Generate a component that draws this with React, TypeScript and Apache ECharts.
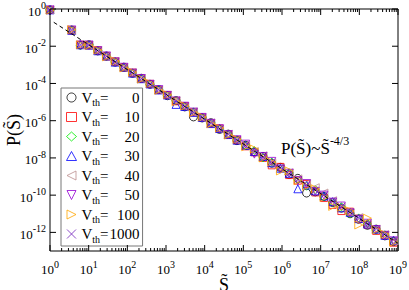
import { useEffect, useRef } from 'react';
import * as echarts from 'echarts';

const FONT = "'Liberation Serif', 'Times New Roman', serif";

// rescaled avalanche size bins (S~)
const sBins = [1, 3.63, 6.1, 10.2, 17.2, 28.8, 48.4, 81.3, 136, 229, 385, 646, 1084, 1820, 3055, 5130, 8610, 14450, 24270, 40740, 68390, 114800, 192800, 323600, 543300, 912000, 1.531e6, 2.57e6, 4.315e6, 7.244e6, 1.216e7, 2.042e7, 3.428e7, 5.754e7, 9.661e7, 1.622e8, 2.723e8, 4.571e8, 7.674e8];

const p0 = [0.9, 7.4e-2, 1.15e-2, 1.2e-2, 5.6e-3, 3.0e-3, 1.4e-3, 7.5e-4, 3.5e-4, 1.9e-4, 9.0e-5, 4.7e-5, 2.2e-5, 1.2e-5, 5.5e-6, 1.6e-6, 1.4e-6, 7.8e-7, 3.4e-7, 1.9e-7, 8.5e-8, 4.8e-8, 2.1e-8, 1.2e-8, 5.2e-9, 3.1e-9, 1.3e-9, 8.0e-10, 1.3e-10, 1.5e-10, 8.5e-11, 4.0e-11, 2.0e-11, 1.0e-11, 5.0e-12, 2.4e-12, 1.5e-12, 6.5e-13, 3.2e-13];
const p10 = [0.88, 7.0e-2, 1.2e-2, 1.1e-2, 6.0e-3, 2.8e-3, 1.5e-3, 7.0e-4, 3.8e-4, 1.8e-4, 9.5e-5, 4.4e-5, 2.4e-5, 1.1e-5, 6.0e-6, 2.8e-6, 1.5e-6, 7.0e-7, 3.8e-7, 1.7e-7, 9.0e-8, 4.2e-8, 2.0e-8, 1.0e-8, 4.0e-9, 3.3e-9, 1.2e-9, 6.0e-10, 4.0e-10, 1.4e-10, 7.0e-11, 3.0e-11, 1.4e-11, 1.3e-11, 5.5e-12, 2.6e-12, 1.2e-12, 7.0e-13, 2.8e-13];
const p20 = [0.92, 7.6e-2, 1.1e-2, 1.2e-2, 5.9e-3, 2.9e-3, 1.5e-3, 7.2e-4, 3.7e-4, 1.9e-4, 9.0e-5, 4.8e-5, 2.3e-5, 1.2e-5, 5.7e-6, 3.0e-6, 1.5e-6, 7.4e-7, 3.6e-7, 1.9e-7, 9.5e-8, 4.5e-8, 2.5e-8, 1.0e-8, 6.0e-9, 2.6e-9, 1.6e-9, 6.5e-10, 3.0e-10, 2.0e-10, 8.0e-11, 4.0e-11, 2.4e-11, 1.0e-11, 6.0e-12, 3.0e-12, 1.3e-12, 7.5e-13, 3.6e-13];
const p30 = [0.9, 7.2e-2, 1.2e-2, 1.15e-2, 5.7e-3, 3.0e-3, 1.4e-3, 7.6e-4, 3.6e-4, 1.8e-4, 9.4e-5, 4.5e-5, 2.4e-5, 7.5e-6, 5.8e-6, 2.8e-6, 1.5e-6, 7.0e-7, 3.8e-7, 1.8e-7, 9.0e-8, 4.7e-8, 2.2e-8, 1.2e-8, 5.5e-9, 2.8e-9, 1.5e-9, 2.2e-10, 3.5e-10, 1.7e-10, 9.0e-11, 4.5e-11, 2.1e-11, 1.2e-11, 5.5e-12, 2.8e-12, 1.5e-12, 7.0e-13, 3.8e-13];
const p40 = [0.9, 7.3e-2, 1.18e-2, 1.13e-2, 5.8e-3, 2.9e-3, 1.5e-3, 7.2e-4, 3.8e-4, 1.8e-4, 9.3e-5, 4.5e-5, 2.3e-5, 1.2e-5, 5.6e-6, 3.0e-6, 1.4e-6, 7.6e-7, 3.5e-7, 1.9e-7, 9.0e-8, 4.8e-8, 2.2e-8, 1.3e-8, 5.5e-9, 2.8e-9, 1.6e-9, 7.5e-10, 4.0e-10, 2.5e-10, 1.3e-10, 5.0e-11, 2.2e-11, 1.2e-11, 6.2e-12, 2.7e-12, 1.5e-12, 7.5e-13, 3.5e-13];
const p50 = [0.9, 7.5e-2, 1.15e-2, 1.17e-2, 5.8e-3, 3.0e-3, 1.45e-3, 7.4e-4, 3.6e-4, 1.85e-4, 9.0e-5, 4.7e-5, 2.3e-5, 1.15e-5, 6.0e-6, 2.9e-6, 1.5e-6, 7.2e-7, 3.7e-7, 1.8e-7, 9.5e-8, 5.5e-8, 1.6e-8, 1.2e-8, 6.5e-9, 2.5e-9, 1.5e-9, 6.0e-10, 4.2e-10, 1.6e-10, 1.0e-10, 4.2e-11, 2.6e-11, 1.1e-11, 5.0e-12, 3.1e-12, 1.4e-12, 7.0e-13, 3.5e-13];
const p100 = [0.86, 7.8e-2, 1.2e-2, 1.1e-2, 6.2e-3, 2.7e-3, 1.6e-3, 6.8e-4, 4.0e-4, 1.7e-4, 1.0e-4, 4.3e-5, 2.5e-5, 1.05e-5, 6.3e-6, 2.7e-6, 1.6e-6, 6.8e-7, 4.0e-7, 1.7e-7, 1.0e-7, 4.0e-8, 3.0e-8, 1.0e-8, 6.0e-9, 2.0e-9, 2.0e-9, 6.0e-10, 3.0e-10, 2.2e-10, 7.5e-11, 2.5e-11, 2.2e-11, 1.4e-11, 2.5e-12, 5.8e-12, 1.4e-12, 8.0e-13, 3.0e-13];
const p1000 = [0.9, 7.4e-2, 1.17e-2, 1.16e-2, 5.8e-3, 2.9e-3, 1.46e-3, 7.3e-4, 3.7e-4, 1.8e-4, 9.2e-5, 4.6e-5, 2.3e-5, 1.2e-5, 5.8e-6, 2.9e-6, 1.5e-6, 7.5e-7, 3.6e-7, 1.9e-7, 8.8e-8, 4.6e-8, 2.1e-8, 1.1e-8, 5.0e-9, 3.0e-9, 1.4e-9, 7.0e-10, 3.5e-10, 1.9e-10, 1.0e-10, 5.0e-11, 2.4e-11, 1.3e-11, 6.0e-12, 2.6e-12, 1.6e-12, 8.0e-13, 4.0e-13];

const vthLabels = ['0', '10', '20', '30', '40', '50', '100', '1000'];
const seriesValues = [p0, p10, p20, p30, p40, p50, p100, p1000];
const seriesColors = ['#000000', '#ff0000', '#00ee00', '#0000ff', '#bc8f8f', '#9400d3', '#ffa500', '#7221bc'];
const seriesSymbols = [
  'circle',
  'rect',
  'diamond',
  'triangle',
  'path://M0,5L10,0L10,10Z',
  'path://M0,0L10,0L5,10Z',
  'path://M0,0L10,5L0,10Z',
  'path://M0,0L10,10M0,10L10,0',
];
const seriesSizes = [8, 7, 8, 8, 8, 8, 8, 6];

// fit  P(S) = A * S^(-4/3)
const fitPrefactor = 0.26;
const fitExponent = -4 / 3;
const fitRange = [1.25, 1e9];

const X_MIN = 1;
const X_MAX = 1e9;
const Y_MIN = 1e-13;
const Y_MAX = 1;
const xMajorExps = [0, 1, 2, 3, 4, 5, 6, 7, 8, 9];
const yMajorExps = [0, -2, -4, -6, -8, -10, -12];
const minorMantissas = [2, 3, 4, 5, 6, 7, 8, 9];

const supRich = {
  b: { fontFamily: FONT, fontSize: 13, color: '#000' },
  s: { fontFamily: FONT, fontSize: 10, color: '#000', padding: [0, 0, 11, 0] },
};

function expOf(v: number) {
  return Math.round(Math.log10(v));
}

function customSeries(name: string, data: number[][], draw: (api: any) => any[]) {
  return {
    name,
    type: 'custom',
    silent: true,
    clip: false,
    z: 5,
    data,
    encode: { x: 0, y: 1 },
    renderItem: (_p: any, api: any) => ({ type: 'group', children: draw(api) }),
  };
}

export default function App() {
  const ref = useRef<HTMLDivElement>(null);
  useEffect(() => {
    if (!ref.current) return;
    const chart = echarts.init(ref.current, undefined, { renderer: 'svg' });
    const lineStyle = { stroke: '#000', lineWidth: 1 };

    const xMinor: number[][] = [];
    for (let d = 0; d < 9; d++) for (const m of minorMantissas) xMinor.push([m * Math.pow(10, d), Y_MIN]);
    const xMajor = xMajorExps.map((e) => [Math.pow(10, e), Y_MIN]);
    const yMajor = yMajorExps.map((e) => [X_MIN, Math.pow(10, e)]);

    const vTick = (len: number) => (api: any) => {
      const x = api.value(0);
      const b = api.coord([x, Y_MIN]);
      const t = api.coord([x, Y_MAX]);
      return [
        { type: 'line', shape: { x1: b[0], y1: b[1], x2: b[0], y2: b[1] - len }, style: lineStyle },
        { type: 'line', shape: { x1: t[0], y1: t[1], x2: t[0], y2: t[1] + len }, style: lineStyle },
      ];
    };
    const yTickAndLabel = (len: number) => (api: any) => {
      const y = api.value(1);
      const l = api.coord([X_MIN, y]);
      const r = api.coord([X_MAX, y]);
      return [
        { type: 'line', shape: { x1: l[0], y1: l[1], x2: l[0] + len, y2: l[1] }, style: lineStyle },
        { type: 'line', shape: { x1: r[0], y1: r[1], x2: r[0] - len, y2: r[1] }, style: lineStyle },
        {
          type: 'text',
          x: l[0] - 4,
          y: l[1] + 2,
          style: {
            text: `{b|10}{s|${expOf(y)}}`,
            rich: supRich,
            align: 'right',
            verticalAlign: 'middle',
          },
        },
      ];
    };

    const scatterSeries = vthLabels.map((name, i) => ({
      name,
      type: 'scatter',
      clip: false,
      z: 3,
      symbol: seriesSymbols[i],
      symbolSize: seriesSizes[i],
      itemStyle: { color: 'transparent', borderColor: seriesColors[i], borderWidth: 1 },
      data: sBins.map((s, k) => [s, seriesValues[i][k]]),
    }));

    const option: any = {
      animation: false,
      backgroundColor: '#fff',
      textStyle: { fontFamily: FONT },
      grid: {
        left: 50,
        top: 9,
        right: 11,
        bottom: 39,
        outerBoundsMode: 'none',
        containLabel: false,
        show: true,
        borderColor: '#000',
        borderWidth: 1,
        backgroundColor: 'transparent',
      },
      xAxis: {
        type: 'log',
        logBase: 10,
        min: X_MIN,
        max: X_MAX,
        splitNumber: 9,
        axisLine: { show: false },
        axisTick: { show: false },
        splitLine: { show: false },
        axisLabel: { margin: 8, formatter: (v: number) => `{b|10}{s|${expOf(v)}}`, rich: supRich },
        name: 'S\u0303',
        nameLocation: 'middle',
        nameGap: 29,
        nameMoveOverlap: false,
        nameTextStyle: { fontFamily: FONT, fontSize: 18, lineHeight: 10, color: '#000' },
      },
      yAxis: {
        type: 'log',
        logBase: 10,
        min: Y_MIN,
        max: Y_MAX,
        splitNumber: 13,
        axisLine: { show: false },
        axisTick: { show: false },
        splitLine: { show: false },
        axisLabel: { show: false },
        name: 'P(S\u0303)',
        nameLocation: 'middle',
        nameGap: 27,
        nameMoveOverlap: false,
        nameTextStyle: { fontFamily: FONT, fontSize: 18, color: '#000' },
      },
      legend: {
        data: vthLabels,
        orient: 'vertical',
        left: 61,
        top: 88,
        padding: [2, 3, 2, 5],
        itemGap: 2,
        itemWidth: 10,
        itemHeight: 9,
        backgroundColor: '#fff',
        borderColor: '#777',
        borderWidth: 1,
        borderRadius: 0,
        itemStyle: { borderWidth: 1 },
        formatter: (name: string) => `{v|V}{sub|th}{eq|=}{n|${name}}`,
        textStyle: {
          fontFamily: FONT,
          color: '#000',
          rich: {
            v: { fontFamily: FONT, fontSize: 15, color: '#000' },
            sub: { fontFamily: FONT, fontSize: 10, color: '#000', padding: [10, 0, 0, 0] },
            eq: { fontFamily: FONT, fontSize: 15, color: '#000' },
            n: { fontFamily: FONT, fontSize: 15, color: '#000', width: 31, align: 'right' },
          },
        },
      },
      graphic: [
        {
          type: 'text',
          left: 281,
          top: 135,
          z: 10,
          style: {
            text: '{a|P(S\u0303)~S\u0303}{s|-4/3}',
            rich: {
              a: { fontFamily: FONT, fontSize: 17, color: '#000' },
              s: { fontFamily: FONT, fontSize: 12, color: '#000', padding: [0, 0, 14, 0] },
            },
          },
        },
      ],
      series: [
        {
          name: 'fit',
          type: 'line',
          z: 4,
          silent: true,
          showSymbol: false,
          lineStyle: { color: '#000', width: 1, type: [4, 3] },
          data: fitRange.map((s) => [s, fitPrefactor * Math.pow(s, fitExponent)]),
        },
        ...scatterSeries,
        customSeries('xMinor', xMinor, vTick(3)),
        customSeries('xMajor', xMajor, vTick(6)),
        customSeries('yMajor', yMajor, yTickAndLabel(6)),
      ],
    };
    chart.setOption(option);
    return () => chart.dispose();
  }, []);
  return <div ref={ref} style={{ position: 'fixed', left: 0, top: 0, width: 409, height: 290, background: '#fff' }} />;
}
